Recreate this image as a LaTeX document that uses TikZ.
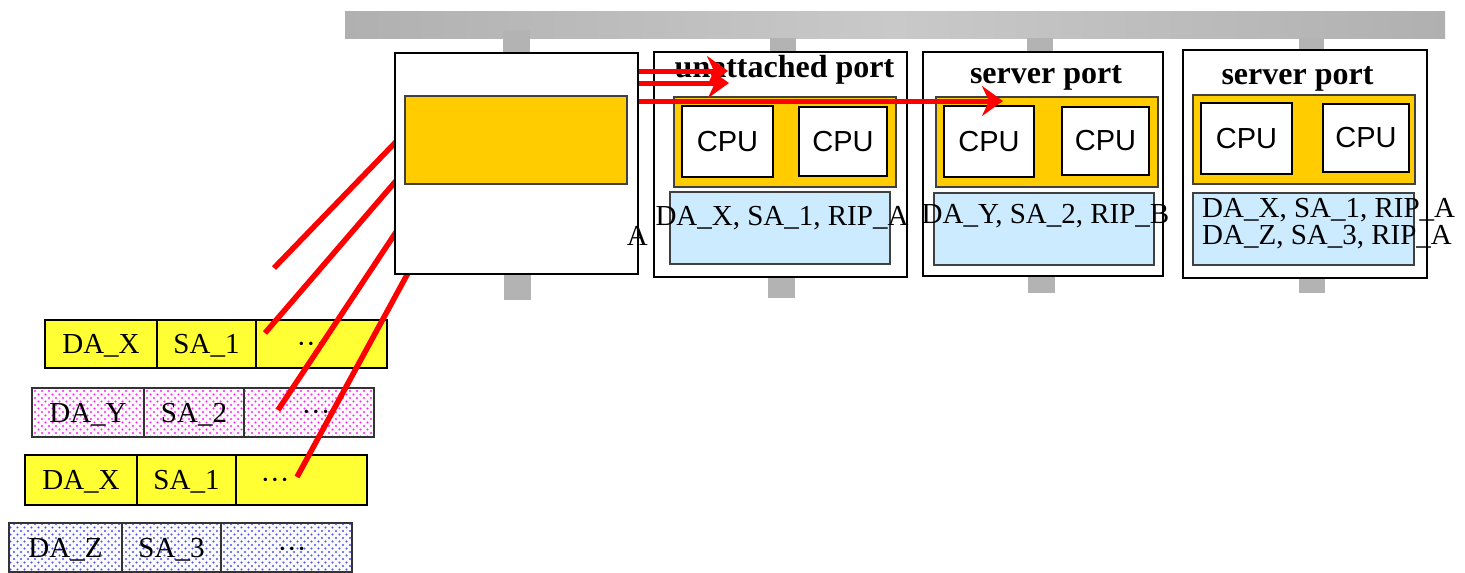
\documentclass[tikz,border=0pt]{standalone}
\usepackage{fontspec}
\setmainfont{Liberation Serif}
\newfontfamily\cpufont{Liberation Sans}
\usetikzlibrary{arrows.meta,patterns}
\definecolor{boardc}{HTML}{FFCC00}
\definecolor{tblc}{HTML}{CCEBFF}
\definecolor{pkty}{HTML}{FFFF33}
\definecolor{stubc}{HTML}{B3B3B3}
\definecolor{busend}{HTML}{B0B0B0}
\definecolor{busmid}{HTML}{C9C9C9}
\definecolor{pinkdot}{HTML}{FF22FF}
\definecolor{pinkbg}{HTML}{FFFAFF}
\definecolor{bluedot}{HTML}{5050F0}
\definecolor{bluebg}{HTML}{FAFAFF}
\pgfdeclarepatternformonly{bigdots}{\pgfqpoint{-1.5pt}{-1.5pt}}{\pgfqpoint{8.5pt}{8.5pt}}{\pgfqpoint{7pt}{7pt}}{%
  \pgfpathcircle{\pgfqpoint{0pt}{0pt}}{1.05pt}%
  \pgfpathcircle{\pgfqpoint{3.5pt}{3.5pt}}{1.05pt}%
  \pgfusepath{fill}}
\newcommand\txtsize{\fontsize{29}{32}\selectfont}
\newcommand\mkbox[6]{\node[#2,minimum width={#5-#3},minimum height={#6-#4}] (#1) at ({(#3+#5)/2},{(#4+#6)/2})}
\tikzset{
  outerbox/.style={draw=black,line width=2pt,fill=white,inner sep=0pt,outer sep=0pt},
  brd/.style={draw=black!75,line width=1.5pt,fill=boardc,inner sep=0pt,outer sep=0pt},
  cpu/.style={draw=black,line width=2pt,fill=white,inner sep=0pt,outer sep=0pt,font=\cpufont\txtsize},
  tab/.style={draw=black!75,line width=1.5pt,fill=tblc,inner sep=0pt,outer sep=0pt},
  stubst/.style={fill=stubc,draw=none,inner sep=0pt,outer sep=0pt},
  cellY/.style={draw=black,line width=1.5pt,fill=pkty,inner sep=0pt,outer sep=0pt,font=\txtsize,text depth=0pt},
  cellP/.style={draw=black!80,line width=1.5pt,preaction={fill=pinkbg},pattern=bigdots,pattern color=pinkdot,inner sep=0pt,outer sep=0pt,font=\txtsize,text depth=0pt},
  cellB/.style={draw=black!80,line width=1.5pt,preaction={fill=bluebg},pattern=bigdots,pattern color=bluedot,inner sep=0pt,outer sep=0pt,font=\txtsize,text depth=0pt},
  ttl/.style={font=\bfseries\fontsize{32}{36}\selectfont,inner sep=0pt,anchor=base},
  lbl/.style={font=\txtsize,inner sep=0pt},
  redline/.style={draw=red,line width=5.5pt},
  redarrow/.style={draw=red,line width=5pt,-{Stealth[length=21pt,width=30pt,inset=7pt]}},
}
\begin{document}
\begin{tikzpicture}[x=1pt,y=-1pt]
\useasboundingbox (0,0) rectangle (1465,573);
% bus
\path[left color=busend,right color=busend,middle color=busmid] (345,11) rectangle (1445,38);
% stubs
\mkbox{s1t}{stubst}{503}{30}{530}{53}{};
\mkbox{s1b}{stubst}{504}{274}{531}{300}{};
\mkbox{s2t}{stubst}{770}{38}{796}{52}{};
\mkbox{s2b}{stubst}{768}{277}{795}{298}{};
\mkbox{s3t}{stubst}{1027}{38}{1053}{52}{};
\mkbox{s3b}{stubst}{1028}{276}{1055}{293}{};
\mkbox{s4t}{stubst}{1299}{38}{1324}{50}{};
\mkbox{s4b}{stubst}{1299}{278}{1325}{293}{};
% packets
\mkbox{p1a}{cellY}{45}{320}{157}{368}{DA\_X};
\mkbox{p1b}{cellY}{157}{320}{256}{368}{SA\_1};
\mkbox{p1c}{cellY}{256}{320}{387}{368}{};
\node[lbl,anchor=base] (p1d) at (311,353) {···};
\mkbox{p2a}{cellP}{32}{388}{144}{437}{DA\_Y};
\mkbox{p2b}{cellP}{144}{388}{244}{437}{SA\_2};
\mkbox{p2c}{cellP}{244}{388}{374}{437}{};
\node[lbl,anchor=base] (p2d) at (316,421) {···};
\mkbox{p3a}{cellY}{25}{455}{137}{505}{DA\_X};
\mkbox{p3b}{cellY}{137}{455}{236}{505}{SA\_1};
\mkbox{p3c}{cellY}{236}{455}{367}{505}{};
\node[lbl,anchor=base] (p3d) at (275,489) {···};
\mkbox{p4a}{cellB}{9}{523}{122}{572}{DA\_Z};
\mkbox{p4b}{cellB}{122}{523}{221}{572}{SA\_3};
\mkbox{p4c}{cellB}{221}{523}{352}{572}{};
\node[lbl,anchor=base] (p4d) at (292,558) {···};
% red lines towards switch
\coordinate (l1a) at (274,268);  \coordinate (l1b) at (420,117);
\coordinate (l2a) at (265,333);  \coordinate (l2b) at (420,153);
\coordinate (l3a) at (278,410);  \coordinate (l3b) at (420,196);
\coordinate (l4a) at (297,477);  \coordinate (l4b) at (420,251);
\draw[redline] (l1a) -- (l1b);
\draw[redline] (l2a) -- (l2b);
\draw[redline] (l3a) -- (l3b);
\draw[redline] (l4a) -- (l4b);
% switch
\mkbox{sw}{outerbox}{395}{53}{638}{274}{};
\mkbox{swb}{brd}{405}{96}{627}{184}{};
\node[lbl,anchor=base east] (swa) at (648,245) {A};
% unattached port
\mkbox{u}{outerbox}{654}{52}{907}{277}{};
\node[ttl] (ut) at (784.5,77) {unattached port};
\mkbox{ub}{brd}{674}{97}{896}{187}{};
\mkbox{uc1}{cpu}{682}{106}{773}{177}{CPU};
\mkbox{uc2}{cpu}{799}{107}{887}{176}{CPU};
\mkbox{utb}{tab}{670}{192}{890}{264}{};
\node[lbl,anchor=base] (utx) at (782,225) {DA\_X, SA\_1, RIP\_A};
% server port 1
\mkbox{v}{outerbox}{923}{52}{1163}{276}{};
\node[ttl] (vt) at (1046,83) {server port};
\mkbox{vb}{brd}{936}{97}{1158}{187}{};
\mkbox{vc1}{cpu}{944}{106}{1034}{177}{CPU};
\mkbox{vc2}{cpu}{1062}{107}{1149}{175}{CPU};
\mkbox{vtb}{tab}{934}{193}{1154}{265}{};
\node[lbl,anchor=base] (vtx) at (1045.5,223) {DA\_Y, SA\_2, RIP\_B};
% server port 2
\mkbox{w}{outerbox}{1183}{50}{1427}{278}{};
\node[ttl] (wt) at (1297.5,84) {server port};
\mkbox{wb}{brd}{1193}{95}{1415}{184}{};
\mkbox{wc1}{cpu}{1201}{103}{1292}{174}{CPU};
\mkbox{wc2}{cpu}{1323}{104}{1409}{172}{CPU};
\mkbox{wtb}{tab}{1193}{193}{1414}{265}{};
\node[lbl,anchor=base west] (wtx1) at (1202,217) {DA\_X, SA\_1, RIP\_A};
\node[lbl,anchor=base west] (wtx2) at (1202,244) {DA\_Z, SA\_3, RIP\_A};
% arrows
\coordinate (a1s) at (639,71);   \coordinate (a1e) at (728,71);
\coordinate (a2s) at (639,83);   \coordinate (a2e) at (729,83);
\coordinate (a3s) at (639,101);  \coordinate (a3e) at (1003,101);
\draw[redarrow] (a1s) -- (a1e);
\draw[redarrow] (a2s) -- (a2e);
\draw[redarrow] (a3s) -- (a3e);
\end{tikzpicture}
\end{document}
